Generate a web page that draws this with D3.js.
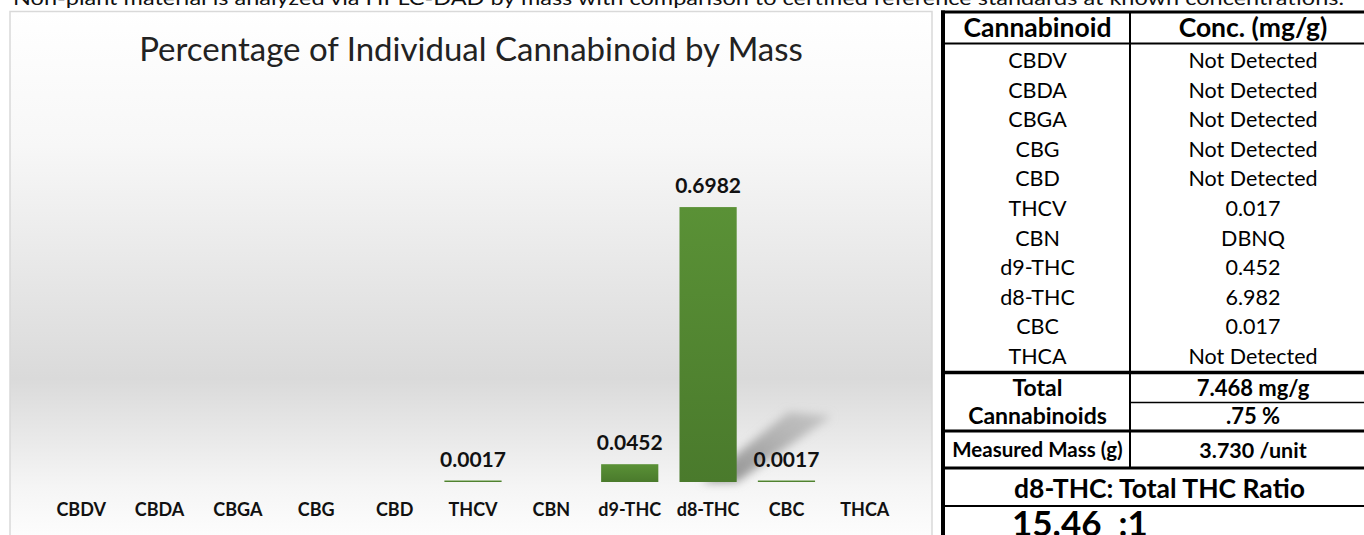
<!DOCTYPE html>
<html>
<head>
<meta charset="utf-8">
<script src="https://cdn.jsdelivr.net/npm/d3@7"></script>
<style>
  body { margin: 0; background: #fff; overflow: hidden; }
  svg { display: block; font-family: Lato, "Open Sans", sans-serif; }
</style>
</head>
<body>
<svg id="chart" width="1364" height="535"></svg>
<script>
// chart data (percent by mass)
const categories = ["CBDV", "CBDA", "CBGA", "CBG", "CBD", "THCV", "CBN", "d9-THC", "d8-THC", "CBC", "THCA"];
const percents = [0, 0, 0, 0, 0, 0.0017, 0, 0.0452, 0.6982, 0.0017, 0];
const labels = ["", "", "", "", "", "0.0017", "", "0.0452", "0.6982", "0.0017", ""];

// table data
const tableNames = ["CBDV", "CBDA", "CBGA", "CBG", "CBD", "THCV", "CBN", "d9-THC", "d8-THC", "CBC", "THCA"];
const tableConc = ["Not Detected", "Not Detected", "Not Detected", "Not Detected", "Not Detected",
  "0.017", "DBNQ", "0.452", "6.982", "0.017", "Not Detected"];
const totalMg = "7.468 mg/g";
const totalPct = ".75 %";
const massText = "3.730 /unit";
const ratioText = "15.46  :1";

const svg = d3.select("#chart");
const defs = svg.append("defs");

// note line at the very top (cut off)
svg.append("text")
  .attr("x", 13).attr("y", 5)
  .attr("font-size", 19)
  .attr("fill", "#111")
  .attr("textLength", 1331)
  .attr("lengthAdjust", "spacingAndGlyphs")
  .text("Non-plant material is analyzed via HPLC-DAD by mass with comparison to certified reference standards at known concentrations.");

// chart frame with vertical gradient
const grad = defs.append("linearGradient")
  .attr("id", "bg").attr("x1", 0).attr("y1", 0).attr("x2", 0).attr("y2", 1);
grad.append("stop").attr("offset", "0%").attr("stop-color", "#ffffff");
grad.append("stop").attr("offset", "25%").attr("stop-color", "#f7f7f7");
grad.append("stop").attr("offset", "68%").attr("stop-color", "#dadada");
grad.append("stop").attr("offset", "88%").attr("stop-color", "#f5f5f5");
grad.append("stop").attr("offset", "100%").attr("stop-color", "#ffffff");

svg.append("rect")
  .attr("x", 10).attr("y", 11.5)
  .attr("width", 922).attr("height", 540)
  .attr("fill", "url(#bg)")
  .attr("stroke", "#d9d9d9").attr("stroke-width", 1.5);

svg.append("text")
  .attr("x", 471).attr("y", 61)
  .attr("text-anchor", "middle")
  .attr("font-size", 33)
  .attr("fill", "#222")
  .text("Percentage of Individual Cannabinoid by Mass");

const x = d3.scaleBand().domain(categories).range([42, 904]).paddingInner(0.27).paddingOuter(0.135);
const y = d3.scaleLinear().domain([0, 0.8]).range([482, 167]);

// soft shadow behind the tall bar
const blur = defs.append("filter").attr("id", "blur")
  .attr("x", "-50%").attr("y", "-50%").attr("width", "200%").attr("height", "200%");
blur.append("feGaussianBlur").attr("stdDeviation", 5);
const shGrad = defs.append("linearGradient")
  .attr("id", "shadow").attr("x1", 0).attr("y1", 1).attr("x2", 1).attr("y2", 0);
shGrad.append("stop").attr("offset", "0%").attr("stop-color", "#8a8a8a").attr("stop-opacity", 1);
shGrad.append("stop").attr("offset", "100%").attr("stop-color", "#b0b0b0").attr("stop-opacity", 0.6);

const maxI = percents.indexOf(d3.max(percents));
const bx = x(categories[maxI]), bw = x.bandwidth();
svg.append("path")
  .attr("d", `M${bx + bw * 0.4},${y(0)} L${bx + bw},${y(0)} L${bx + bw + 95},${y(0) - 66} L${bx + bw + 52},${y(0) - 70} Z`)
  .attr("fill", "url(#shadow)")
  .attr("filter", "url(#blur)");

// bars
const barGrad = defs.append("linearGradient")
  .attr("id", "bar").attr("x1", 0).attr("y1", 0).attr("x2", 0).attr("y2", 1);
barGrad.append("stop").attr("offset", "0%").attr("stop-color", "#5a9136");
barGrad.append("stop").attr("offset", "100%").attr("stop-color", "#4a7a2c");

svg.append("g").selectAll("rect")
  .data(categories)
  .join("rect")
  .filter((d, i) => percents[i] > 0)
  .attr("x", d => x(d))
  .attr("width", x.bandwidth())
  .attr("y", d => Math.min(y(percents[categories.indexOf(d)]), y(0) - 1.5))
  .attr("height", d => Math.max(y(0) - y(percents[categories.indexOf(d)]), 1.5))
  .attr("fill", "url(#bar)");

// data labels
svg.append("g").selectAll("text")
  .data(categories)
  .join("text")
  .attr("x", d => x(d) + x.bandwidth() / 2)
  .attr("y", (d, i) => y(percents[i]) - 14)
  .attr("text-anchor", "middle")
  .attr("font-size", 21)
  .attr("font-weight", "bold")
  .attr("fill", "#111")
  .text((d, i) => labels[i]);

// category axis
const xAxis = svg.append("g")
  .attr("transform", "translate(0,500)")
  .call(d3.axisBottom(x).tickSize(0));
xAxis.select(".domain").remove();
xAxis.selectAll("text")
  .attr("font-size", 18)
  .attr("font-weight", "bold")
  .attr("font-family", "Lato, sans-serif")
  .attr("fill", "#111");

// results table
const tL = 945, tM = 1130, tR = 1376;
const cL = (tL + tM) / 2, cR = (tM + tR) / 2;
const table = svg.append("g");

table.append("text").attr("x", cL).attr("y", 37).attr("text-anchor", "middle")
  .attr("font-size", 26.5).attr("font-weight", "bold").text("Cannabinoid");
table.append("text").attr("x", cR).attr("y", 37).attr("text-anchor", "middle")
  .attr("font-size", 26.5).attr("font-weight", "bold").text("Conc. (mg/g)");

const rowY = d3.scalePoint().domain(tableNames).range([60, 356]);
table.append("g").selectAll("text")
  .data(tableNames)
  .join("text")
  .attr("x", cL).attr("y", d => rowY(d) + 8)
  .attr("text-anchor", "middle").attr("font-size", 21.5)
  .text(d => d);
table.append("g").selectAll("text")
  .data(tableConc)
  .join("text")
  .attr("x", cR).attr("y", (d, i) => rowY(tableNames[i]) + 8)
  .attr("text-anchor", "middle").attr("font-size", 21.5)
  .text(d => d);

const bold = (txt, xx, yy, size) => table.append("text")
  .attr("x", xx).attr("y", yy).attr("text-anchor", "middle")
  .attr("font-size", size).attr("font-weight", "bold").text(txt);

bold("Total", cL, 396, 23);
bold("Cannabinoids", cL, 424, 23);
bold(totalMg, cR, 396, 22);
bold(totalPct, cR, 424, 22);
bold("Measured Mass (g)", cL, 457, 20.5);
bold(massText, cR, 458, 21.5);
bold("d8-THC: Total THC Ratio", (tL + 1364) / 2 + 5, 498, 26.5);
table.append("text").attr("x", 1012).attr("y", 536)
  .attr("font-size", 35).attr("font-weight", "bold").attr("xml:space", "preserve")
  .text(ratioText);

// table rules
const hline = (y1, x1, x2, w) => table.append("line")
  .attr("x1", x1).attr("x2", x2).attr("y1", y1).attr("y2", y1)
  .attr("stroke", "#000").attr("stroke-width", w);
hline(12, 941, 1364, 3);
hline(43.5, 941, 1364, 2);
hline(372.5, 941, 1364, 3.5);
hline(402.5, tM, 1364, 1.5);
hline(431, 941, 1364, 3);
hline(468, 941, 1364, 3);
hline(506, 941, 1364, 2);
table.append("line").attr("x1", 943).attr("x2", 943).attr("y1", 10.5).attr("y2", 535)
  .attr("stroke", "#000").attr("stroke-width", 4);
table.append("line").attr("x1", tM).attr("x2", tM).attr("y1", 12).attr("y2", 468)
  .attr("stroke", "#000").attr("stroke-width", 2);
</script>
</body>
</html>
